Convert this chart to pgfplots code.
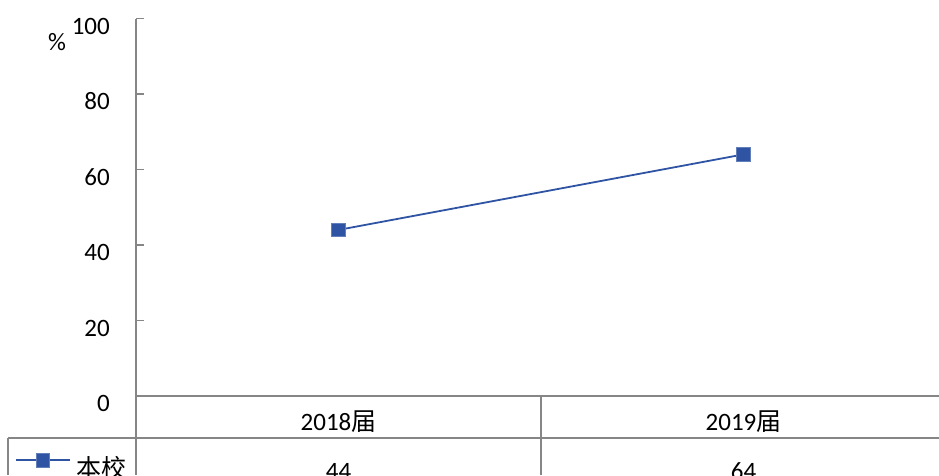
\documentclass[border=0pt]{standalone}
\usepackage{fontspec}
\setmainfont{Carlito}
\newfontfamily\cjk{Noto Sans CJK SC}
\usepackage{pgfplots}
\pgfplotsset{compat=1.18}
\definecolor{ser}{RGB}{47,84,163}
\definecolor{axc}{RGB}{134,134,134}
\begin{document}
\begin{tikzpicture}[x=1pt,y=1pt]
\useasboundingbox (0,0) rectangle (939,475);
\clip (0,0) rectangle (939,475);
\begin{axis}[
  at={(136pt,79pt)}, anchor=south west,
  width=810pt, height=377.5pt, scale only axis,
  xmin=-0.5, xmax=1.5, ymin=0, ymax=100,
  ytick={0,20,...,100},
  xtick={0,1},
  xticklabels={2018{\cjk 届}, 2019{\cjk 届}},
  axis x line*=bottom, axis y line*=left,
  axis line style={axc, line width=1.3pt},
  tick align=inside,
  major tick length=8pt,
  ytick style={axc, line width=1.3pt},
  xtick style={draw=none},
  /pgf/number format/assume math mode=true,
  tick label style={font=\fontsize{25}{30}\selectfont},
  yticklabel style={inner sep=0pt, xshift=-26pt, yshift=-7.5pt, anchor=east},
  xticklabel style={inner sep=0pt, anchor=center, yshift=-26pt},
  ylabel={\%},
  ylabel style={rotate=-90, at={(axis description cs:-0.0975,0.9377)}, anchor=center, font=\fontsize{25}{30}\selectfont},
  clip=false,
  legend style={draw=none, fill=none, inner sep=0pt, at={(axis description cs:-0.1494,-0.188)}, anchor=west,
    font=\fontsize{25}{30}\selectfont\cjk,
    /tikz/every odd column/.append style={column sep=4pt}},
  legend image code/.code={\draw[yshift=7pt,mark repeat=2,mark phase=2,#1] plot coordinates {(0pt,0pt) (27pt,0pt) (54pt,0pt)};},
]
\addplot[ser, line width=1.8pt, mark=square*, mark size=6.8pt, mark options={fill=ser, draw=ser!75!white, line width=0.8pt}]
  coordinates {(0,44) (1,64)};
\addlegendentry{本校}
\node[anchor=base, font=\fontsize{25}{30}\selectfont] at (axis cs:0,-22.1) {44};
\node[anchor=base, font=\fontsize{25}{30}\selectfont] at (axis cs:1,-22.1) {64};
\end{axis}
\draw[axc, line width=1.3pt] (136,79) -- (136,0);
\draw[axc, line width=1.3pt] (541,79) -- (541,0);
\draw[axc, line width=1.3pt] (8,37) -- (946,37);
\draw[axc, line width=1.3pt] (8,37) -- (8,0);
\end{tikzpicture}
\end{document}
